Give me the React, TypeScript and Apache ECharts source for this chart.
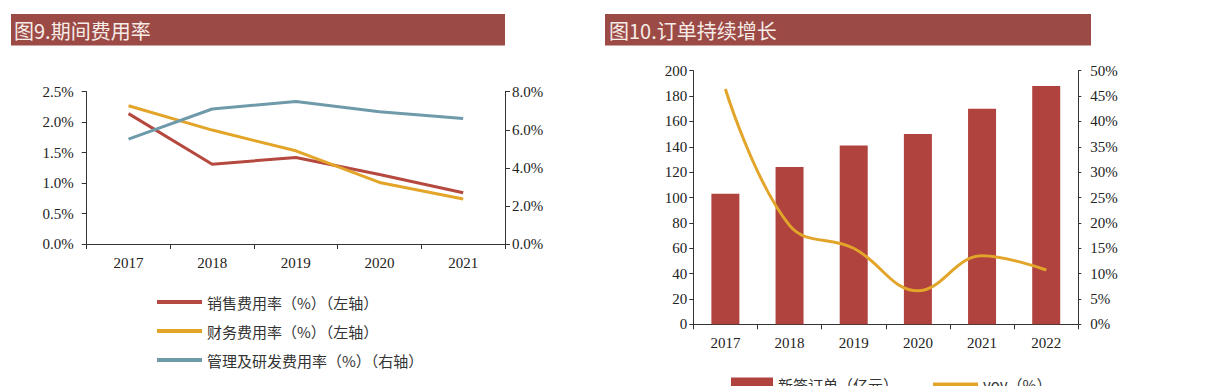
import React, { useEffect, useRef } from "react";
import * as echarts from "echarts";

const expenseYears = ["2017", "2018", "2019", "2020", "2021"];
const salesRate = [2.14, 1.31, 1.42, 1.14, 0.84];
const financeRate = [2.27, 1.87, 1.53, 1.01, 0.74];
const adminRdRate = [5.51, 7.09, 7.49, 6.95, 6.59];

const orderYears = ["2017", "2018", "2019", "2020", "2021", "2022"];
const newOrders = [103, 124, 141, 150, 170, 188];
const orderYoy = [46.4, 19.5, 15.0, 6.6, 13.5, 10.7];

const leftTitle = "图9.期间费用率";
const rightTitle = "图10.订单持续增长";
const salesName = "销售费用率（%）（左轴）";
const financeName = "财务费用率（%）（左轴）";
const adminName = "管理及研发费用率（%）（右轴）";
const orderName = "新签订单（亿元）";
const yoyName = "yoy（%）";

const RED = "#B5483F";
const GOLD = "#E2A52A";
const BLUE = "#6E9AAA";
const BAR = "#B0433E";
const TITLE_BG = "#9C4A45";
const NUM_FONT = "'Liberation Serif', 'Times New Roman', serif";
const CJK_FONT = "'Noto Sans CJK SC', sans-serif";

export default function App() {
  const ref = useRef<HTMLDivElement>(null);
  useEffect(() => {
    if (!ref.current) return;
    const chart = echarts.init(ref.current, undefined, { renderer: "svg" });
    const axisLine = { show: true, lineStyle: { color: "#333", width: 1 } };
    const numLabel = { fontFamily: NUM_FONT, fontSize: 15, color: "#222" };
    chart.setOption({
      animation: false,
      backgroundColor: "#fff",
      graphic: [
        { type: "rect", shape: { x: 11, y: 14, width: 494, height: 31.5 }, style: { fill: TITLE_BG } },
        { type: "rect", shape: { x: 605, y: 14, width: 486, height: 31.5 }, style: { fill: TITLE_BG } },
        {
          type: "text", x: 14, y: 30,
          style: { text: leftTitle, fill: "#F6ECE8", font: `20px ${CJK_FONT}`, textVerticalAlign: "middle" },
        },
        {
          type: "text", x: 609, y: 30,
          style: { text: rightTitle, fill: "#F6ECE8", font: `20px ${CJK_FONT}`, textVerticalAlign: "middle" },
        },
      ],
      legend: [
        {
          orient: "vertical", left: 157, top: 292, padding: 0, itemWidth: 45, itemHeight: 4, itemGap: 9,
          icon: "rect",
          data: [salesName, financeName, adminName],
          textStyle: { fontFamily: CJK_FONT, fontSize: 15, color: "#333", lineHeight: 20 },
        },
        {
          left: 731, top: 377, padding: 0, itemWidth: 42, itemHeight: 14, icon: "rect",
          data: [orderName],
          textStyle: { fontFamily: CJK_FONT, fontSize: 15, color: "#333" },
        },
        {
          left: 933, top: 377, padding: 0, itemWidth: 45, itemHeight: 4, icon: "rect",
          data: [yoyName],
          textStyle: { fontFamily: CJK_FONT, fontSize: 15, color: "#333", lineHeight: 14 },
        },
      ],
      grid: [
        { left: 86.7, top: 91.7, width: 418.3, height: 152.3 },
        { left: 693.3, top: 70.7, width: 385, height: 253.6 },
      ],
      xAxis: [
        {
          type: "category", gridIndex: 0, data: expenseYears, boundaryGap: true,
          axisLine, axisTick: { show: true, length: 5, lineStyle: { color: "#333" } },
          axisLabel: { ...numLabel, margin: 11 },
        },
        {
          type: "category", gridIndex: 1, data: orderYears, boundaryGap: true,
          axisLine, axisTick: { show: true, length: 5, lineStyle: { color: "#333" } },
          axisLabel: { ...numLabel, margin: 11 },
        },
      ],
      yAxis: [
        {
          type: "value", gridIndex: 0, position: "left", min: 0, max: 2.5, interval: 0.5,
          axisLine, axisTick: { show: true, length: 5, lineStyle: { color: "#333" } }, splitLine: { show: false },
          axisLabel: { ...numLabel, margin: 13, formatter: (v: number) => v.toFixed(1) + "%" },
        },
        {
          type: "value", gridIndex: 0, position: "right", min: 0, max: 8, interval: 2,
          axisLine, axisTick: { show: true, length: 5, lineStyle: { color: "#333" } }, splitLine: { show: false },
          axisLabel: { ...numLabel, margin: 7, formatter: (v: number) => v.toFixed(1) + "%" },
        },
        {
          type: "value", gridIndex: 1, position: "left", min: 0, max: 200, interval: 20,
          axisLine, axisTick: { show: true, length: 4, lineStyle: { color: "#333" } }, splitLine: { show: false },
          axisLabel: { ...numLabel, margin: 6 },
        },
        {
          type: "value", gridIndex: 1, position: "right", min: 0, max: 50, interval: 5,
          axisLine, axisTick: { show: true, length: 3, lineStyle: { color: "#333" } }, splitLine: { show: false },
          axisLabel: { ...numLabel, margin: 12, formatter: (v: number) => v + "%" },
        },
      ],
      series: [
        {
          name: salesName, type: "line", xAxisIndex: 0, yAxisIndex: 0, data: salesRate,
          showSymbol: false, lineStyle: { color: RED, width: 3 }, itemStyle: { color: RED },
        },
        {
          name: financeName, type: "line", xAxisIndex: 0, yAxisIndex: 0, data: financeRate,
          showSymbol: false, lineStyle: { color: GOLD, width: 3 }, itemStyle: { color: GOLD },
        },
        {
          name: adminName, type: "line", xAxisIndex: 0, yAxisIndex: 1, data: adminRdRate,
          showSymbol: false, lineStyle: { color: BLUE, width: 3 }, itemStyle: { color: BLUE },
        },
        {
          name: orderName, type: "bar", xAxisIndex: 1, yAxisIndex: 2, data: newOrders,
          barWidth: 28, itemStyle: { color: BAR },
        },
        {
          name: yoyName, type: "line", xAxisIndex: 1, yAxisIndex: 3, data: orderYoy,
          smooth: 0.4, showSymbol: false, lineStyle: { color: GOLD, width: 3 }, itemStyle: { color: GOLD },
        },
      ],
    });
    return () => chart.dispose();
  }, []);
  return (
    <div
      ref={ref}
      style={{ position: "fixed", left: 0, top: 0, width: 1210, height: 386 }}
    />
  );
}
